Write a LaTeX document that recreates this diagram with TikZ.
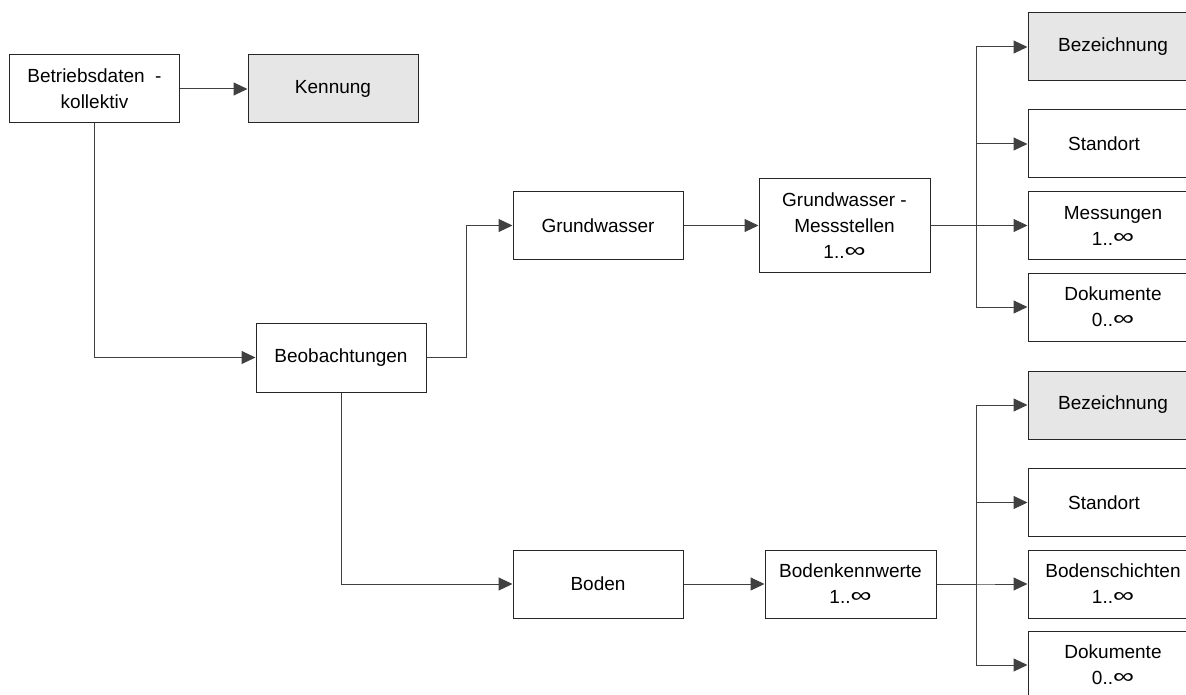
\documentclass[tikz,border=0pt]{standalone}
\usepackage{fontspec}
\setmainfont{Liberation Sans}
\usetikzlibrary{arrows.meta}
\definecolor{keygray}{HTML}{E6E6E6}
\newcommand\unendl{\raisebox{0.12ex}{\scalebox{1.55}[1.1]{∞}}}
\begin{document}
\begin{tikzpicture}[x=1pt,y=-1pt,>={Triangle[length=14pt,width=13pt]}]
\def\bw{170pt}
\def\bh{68pt}
\def\trunk{46}
\tikzset{
base/.style={draw=black!85,line width=1pt,font=\fontsize{19}{26}\selectfont,align=center,inner sep=0pt},
box/.style={base,minimum width=\bw,minimum height=\bh},
key/.style={box,fill=keygray},
link/.style={draw=black!75,line width=1pt,->}}
\useasboundingbox (0,0) rectangle (1186,695);
% Kopf
\node[box] at (94.5,89) (betr) {Betriebsdaten\ \ -\\kollektiv};
\node[key] at (333,89) (kenn) {Kennung};
\node[box,minimum height=69pt] at (341,357.5) (beob) {Beobachtungen};
% Grundwasser
\node[box] at (598,225.5) (gw) {Grundwasser};
\node[box,minimum width=171pt,minimum height=93pt] at (844.5,225.5) (gwm) {Grundwasser -\\Messstellen\\1..\unendl};
\node[key] at (1113,47) (gwbez) {Bezeichnung};
\node[box] at (1113,144) (gwort) {Standort\hspace{18pt}};
\node[box] at (1113,225.5) (gwmess) {Messungen\\1..\unendl};
\node[box] at (1113,307) (gwdok) {Dokumente\\0..\unendl};
% Boden
\node[box] at (598,584) (bod) {Boden};
\node[box,minimum width=171pt] at (850.5,584) (bkw) {Bodenkennwerte\\1..\unendl};
\node[key] at (1113,405) (bbez) {Bezeichnung};
\node[box] at (1113,502.5) (bort) {Standort\hspace{18pt}};
\node[box] at (1113,584) (bschicht) {Bodenschichten\\1..\unendl};
\node[box] at (1113,665) (bdok) {Dokumente\\0..\unendl};
% Verbindungen
\path[link] (betr.east) -- (kenn.west);
\path[link] (betr.south) |- (beob.west);
\path[link] (beob.east) -- ++(40,0) |- (gw.west);
\path[link] (beob.south) |- (bod.west);
\path[link] (gw.east) -- (gwm.west);
\path[link] (bod.east) -- (bkw.west);
\foreach \t in {gwbez,gwort,gwmess,gwdok}
  \path[link] (gwm.east) -- ++(\trunk,0) |- (\t.west);
\foreach \t in {bbez,bort,bschicht,bdok}
  \path[link] (bkw.east) -- ++(40,0) |- (\t.west);
\end{tikzpicture}
\end{document}
